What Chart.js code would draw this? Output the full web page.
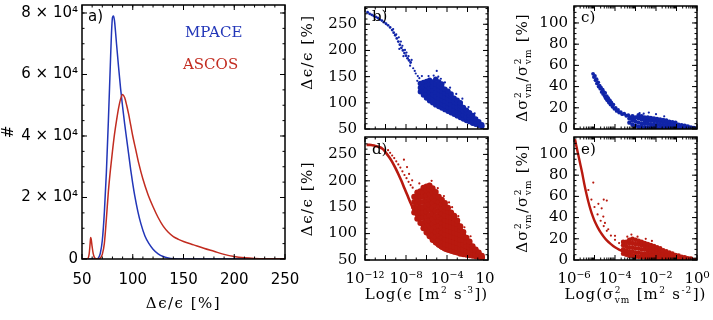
<!DOCTYPE html>
<html><head><meta charset="utf-8">
<script src="https://cdn.jsdelivr.net/npm/chart.js@4.4.1/dist/chart.umd.min.js"></script>
<style>
html,body{margin:0;padding:0;background:#fff;width:713px;height:320px;overflow:hidden}
.p{position:absolute}
</style></head><body>
<div class="p" style="left:0;top:0"><canvas id="ca" width="305" height="320"></canvas></div>
<div class="p" style="left:290px;top:0"><canvas id="cb" width="205" height="133"></canvas></div>
<div class="p" style="left:290px;top:133px"><canvas id="cd" width="205" height="187"></canvas></div>
<div class="p" style="left:500px;top:0"><canvas id="cc" width="213" height="133"></canvas></div>
<div class="p" style="left:500px;top:133px"><canvas id="ce" width="213" height="187"></canvas></div>
<script>
// ---------------- DATA ----------------
// panel a: histograms of relative uncertainty (%)
const mpaceX = [50,60,64,66,68,70,72,74,76,78,79,80,81,82,83,84,86,88,90,92,94,96,98,100,102,105,108,112,116,120,125,130,135,140,150,250];
const mpaceN = [0,0,0,300,1800,6000,15000,28000,45000,64000,73000,78500,79000,77500,74000,70000,62500,55500,49500,44000,39000,34000,29000,24500,20500,15500,11500,7500,5000,3200,1700,800,350,120,0,0];
const ascosX = [50,55,57,58,58.5,59,60,61,62,63,64,66,68,70,72,74,76,78,80,82,84,86,88,90,92,94,96,98,100,103,106,110,115,120,125,130,135,140,145,150,160,170,180,190,200,210,220,235,250];
const ascosN = [0,0,1500,5000,7000,6500,4000,1800,700,200,50,0,300,1500,5000,13000,22000,29000,35000,40500,45000,49000,52000,53500,52500,50000,47000,43500,40000,35500,31000,26000,21000,17000,13500,10700,8700,7300,6400,5700,4600,3500,2500,1500,800,400,200,100,50];
const aXTicks = [50,100,150,200,250];
const aYTicks = [0,20000,40000,60000,80000];
const aYLabels = ['0','2 × 10⁴','4 × 10⁴','6 × 10⁴','8 × 10⁴'];

// panels b,d: [log10(eps), d eps/eps %]
const bLinePts = [[-11.75,273],[-11.55,270],[-11.35,268],[-11.15,266],[-10.95,264],[-10.75,262],[-10.55,259],[-10.35,257],[-10.15,254],[-9.95,251],[-9.75,248],[-9.55,244],[-9.35,239],[-9.2,234],[-9.05,229],[-8.9,223],[-8.75,217],[-8.6,211],[-8.45,205],[-8.3,200],[-8.15,195],[-8.0,190],[-7.85,185],[-7.7,181],[-7.55,177]];
const bSparsePts = [[-9.25,241],[-8.95,231],[-8.7,225],[-8.5,217],[-8.65,203],[-8.35,209],[-8.1,201],[-8.25,189],[-7.95,196],[-7.75,189],[-7.6,171],[-7.45,182],[-7.3,166],[-7.05,156],[-6.85,151],[-6.7,147],[-7.15,161],[-6.45,151],[-6.9,142],[-5.3,152],[-5.0,161],[-4.85,150],[-4.6,146],[-4.2,139],[-5.8,151],[-3.7,129],[-3.1,117],[-2.5,108],[-1.9,92],[-1.3,80]];
const bBlobCols = [
 [-6.6,[121,129,137]],[-6.3,[115,123,131,139]],[-6.0,[109,117,125,133,141]],
 [-5.7,[104,112,120,128,136,143]],[-5.4,[100,108,116,124,132,140]],[-5.1,[96,104,112,120,128,136,145]],
 [-4.8,[93,101,109,117,125,133,140]],[-4.5,[90,98,106,114,122,130,136]],[-4.2,[87,95,103,111,119,126]],
 [-3.9,[84,92,100,108,116,122]],[-3.6,[81,89,97,105,112,117]],[-3.3,[78,86,94,102,109]],
 [-3.0,[75,83,91,99,105]],[-2.7,[72,80,88,95,100]],[-2.4,[69,77,84,91]],[-2.1,[66,73,80,86]],
 [-1.8,[64,70,76,81]],[-1.5,[61,67,72,76]],[-1.2,[59,64,69]],[-0.9,[57,61,64]],[-0.6,[55,58]]];
const dMainPts = [[-11.85,268],[-11.4,268],[-11.0,266],[-10.6,264],[-10.25,260],[-9.95,253],[-9.65,245],[-9.35,236],[-9.05,225],[-8.75,213],[-8.45,200],[-8.15,186],[-7.85,172],[-7.55,158],[-7.25,145],[-6.95,133],[-6.65,122],[-6.35,112],[-6.05,102],[-5.75,94],[-5.45,87],[-5.15,81],[-4.85,76],[-4.55,72],[-4.25,69],[-3.95,66.5],[-3.65,64.5],[-3.35,63],[-3.05,62],[-2.55,60],[-2.05,58.5],[-1.55,57],[-1.05,56],[-0.55,54.5],[-0.3,54]];
const dStrandPts = [[-9.75,258],[-9.55,253],[-9.35,248],[-9.15,243],[-8.95,237],[-8.75,231],[-8.55,225],[-8.35,218],[-8.15,211],[-7.95,205],[-7.75,198],[-7.55,192],[-7.35,187]];
const dSparsePts = [[-8.2,240],[-7.9,226],[-7.7,213],[-7.4,201],[-6.7,195],[-5.5,200],[-4.9,186],[-4.3,171],[-3.8,159],[-3.5,150],[-2.9,133],[-2.3,112],[-1.7,95]];
const dBlobCols = [
 [-7.2,[140,150,160,170]],[-6.9,[128,138,148,158,168,178]],[-6.6,[120,130,140,150,160,170,180]],
 [-6.3,[110,120,130,140,150,160,170,180,187]],[-6.0,[102,112,122,132,142,152,162,172,182,189]],
 [-5.7,[95,105,115,125,135,145,155,165,175,184,191]],[-5.4,[88,98,108,118,128,138,148,158,168,178,186]],
 [-5.1,[83,93,103,113,123,133,143,153,163,172,179]],[-4.8,[79,88,97,106,115,124,133,142,151,160,170]],
 [-4.5,[75,84,93,102,111,120,129,138,147,156,164]],[-4.2,[72,81,90,99,108,117,126,135,144,152,158]],
 [-3.9,[70,79,88,97,106,115,124,133,142,149]],[-3.6,[68,77,86,95,104,113,122,131,140]],
 [-3.3,[66,75,84,93,102,111,120,129,134]],[-3.0,[64,73,82,91,100,109,118,125]],
 [-2.7,[62,71,80,89,98,107,114]],[-2.4,[61,70,79,88,96,103]],[-2.1,[60,68,76,84,92]],
 [-1.8,[59,66,73,80,85]],[-1.5,[58,64,70,76]],[-1.2,[57,62,67,70]],[-0.9,[56,60,64]],[-0.6,[55,58]]];
const bdXTicks = [1e-12,1e-8,1e-4,1];
const bdXLabels = ['10⁻¹²','10⁻⁸','10⁻⁴','10⁰'];
const bdYTicks = [50,100,150,200,250];

// panels c,e: [log10(sigma^2), d sigma^2/sigma^2 %]
const cBandPts = [[-5.07,52],[-5.03,49],[-4.98,50],[-4.95,46],[-4.9,47],[-4.88,43],[-4.82,44],[-4.8,40],[-4.75,41],[-4.72,38],[-4.68,39],[-4.65,35],[-4.6,37],[-4.58,33],[-4.55,35],[-4.5,31],[-4.48,34],[-4.45,29],[-4.4,31],[-4.38,27],[-4.33,29],[-4.3,25],[-4.25,27],[-4.22,23],[-4.18,25],[-4.12,21],[-4.08,23],[-4.03,19],[-3.97,20],[-3.92,17],[-3.85,18],[-3.8,15.5],[-3.72,16],[-3.65,14],[-3.55,14.5],[-3.45,12.5],[-3.35,13],[-3.25,11],[-3.15,10],[-3.05,9.5]];
const cBlobCols = [
 [-3.3,[6,10]],[-3.15,[4,8,12]],[-3.0,[3,7,11]],[-2.85,[2,6,10,13]],[-2.7,[2,5,9,12]],
 [-2.55,[1.5,5,8,11]],[-2.4,[1.5,5,8,11]],[-2.25,[1,4.5,8,10.5]],[-2.1,[1,4,7.5,10]],
 [-1.95,[1,4,7,9.5]],[-1.8,[1,4,7,9]],[-1.65,[1,3.5,6.5,8.5]],[-1.5,[1,3.5,6,8]],
 [-1.35,[0.8,3,5.5,7]],[-1.2,[0.8,3,5,6.5]],[-1.05,[0.8,2.5,4.5,6]],[-0.9,[0.7,2.5,4]],
 [-0.75,[0.7,2,3.5]],[-0.6,[0.6,2,3]],[-0.45,[0.6,1.5,2.5]],[-0.3,[0.6,1.5]],[-0.15,[0.5,1]]];
const cSparsePts = [[-2.8,15],[-2.35,15.5],[-2.0,14],[-1.6,12],[-3.5,13.5],[-2.6,14.5]];
const eMainPts = [[-5.95,114],[-5.9,109],[-5.8,100],[-5.7,91],[-5.6,82],[-5.5,72],[-5.4,63],[-5.3,55],[-5.2,48],[-5.1,42],[-5.0,37],[-4.85,31],[-4.7,26],[-4.55,22],[-4.4,18.5],[-4.2,15],[-4.0,12],[-3.8,9.8],[-3.6,8],[-3.3,6],[-3.0,4.6],[-2.6,3.4],[-2.2,2.5],[-1.8,1.8],[-1.4,1.4],[-1.0,1.1],[-0.6,0.9],[-0.2,0.8],[0,0.8]];
const eStrandPts = [[-5.3,66],[-5.15,57],[-5.0,50],[-4.85,43],[-4.7,37],[-4.55,32],[-4.4,27.5],[-4.2,23],[-4.0,19],[-3.8,16],[-3.6,13.5],[-3.4,11.5]];
const eSparsePts = [[-5.06,73],[-4.4,56],[-4.55,57],[-4.81,53],[-4.65,48.7],[-4.57,41],[-4.49,35],[-4.33,29],[-4.0,22.8],[-3.2,24],[-2.9,22],[-2.5,20],[-2.2,18],[-3.4,22]];
const eBlobCols = [
 [-3.6,[6,10,14,17]],[-3.45,[5,9,13,17]],[-3.3,[4,8,12,16,19]],[-3.15,[4,8,12,16,20]],
 [-3.0,[3,7,11,15,19]],[-2.85,[3,7,11,15,18]],[-2.7,[2.5,6,10,14,17]],[-2.55,[2.5,6,10,13,16]],
 [-2.4,[2,5.5,9,12,15]],[-2.25,[2,5,8.5,12,14]],[-2.1,[1.5,5,8,11,13]],[-1.95,[1.5,4.5,7.5,10,12]],
 [-1.8,[1.5,4,7,9.5,11]],[-1.65,[1.2,4,6.5,9]],[-1.5,[1.2,3.5,6,8]],[-1.35,[1,3,5.5,7]],
 [-1.2,[1,3,5,6]],[-1.05,[1,2.5,4.5]],[-0.9,[0.9,2.5,4]],[-0.75,[0.9,2,3]],[-0.6,[0.8,1.8,2.5]],
 [-0.45,[0.8,1.5]],[-0.3,[0.8,1.2]]];
const ceXTicks = [1e-6,1e-4,1e-2,1];
const ceXLabels = ['10⁻⁶','10⁻⁴','10⁻²','10⁰'];
const ceYTicks = [0,20,40,60,80,100];

// ---------------- STYLE / HELPERS ----------------
const SERIF = 'DejaVu Serif', SANS = 'DejaVu Sans';
const BLUE = '#2236b8', RED = '#c22c20', SBLUE = '#1024a8', SRED = '#b8190f';
Chart.defaults.font.family = SERIF;
Chart.defaults.color = '#000';

function pts(list){ return list.map(p=>({x:Math.pow(10,p[0]), y:p[1]})); }
function cols(list){ const o=[]; list.forEach(c=>c[1].forEach(y=>o.push({x:Math.pow(10,c[0]), y}))); return o; }
function sc(data,color,r){ return {data, backgroundColor:color, borderColor:color, pointRadius:r, pointBorderWidth:0, showLine:false}; }
function ln(data,color,w){ return {data, borderColor:color, backgroundColor:color, borderWidth:w, pointRadius:0, showLine:true, tension:0.3}; }

function rich(ctx, segs, x, y, rot, size, fam, sp){
  const small = Math.round(size*0.62);
  ctx.save(); ctx.translate(x,y); ctx.rotate(rot||0);
  ctx.fillStyle='#000'; ctx.textBaseline='alphabetic'; ctx.textAlign='left';
  ctx.letterSpacing = (sp||0)+'px';
  const widths = segs.map(s=>{
    if(typeof s==='string'){ ctx.font=size+'px "'+fam+'"'; return ctx.measureText(s).width; }
    ctx.font=small+'px "'+fam+'"';
    return Math.max(s.sup?ctx.measureText(s.sup).width:0, s.sub?ctx.measureText(s.sub).width:0)+1;
  });
  const w = widths.reduce((a,b)=>a+b,0);
  let cx=-w/2; const base=size*0.36;
  segs.forEach((s,i)=>{
    if(typeof s==='string'){ ctx.font=size+'px "'+fam+'"'; ctx.fillText(s,cx,base); }
    else { ctx.font=small+'px "'+fam+'"';
      if(s.sup) ctx.fillText(s.sup,cx+0.5,base-size*0.45);
      if(s.sub) ctx.fillText(s.sub,cx+0.5,base+size*0.22); }
    cx+=widths[i];
  });
  ctx.restore();
}

function frame(xMaj,xMin,yMaj,yMin){
  return {id:'frame', afterDatasetsDraw(chart){
    const {ctx, chartArea:a, scales} = chart; const xs=scales.x, ys=scales.y;
    ctx.save(); ctx.strokeStyle='#000';
    const t=(vals,len,isX)=>{ vals.forEach(v=>{
      if(isX){ const p=xs.getPixelForValue(v); ctx.moveTo(p,a.bottom); ctx.lineTo(p,a.bottom-len); ctx.moveTo(p,a.top); ctx.lineTo(p,a.top+len); }
      else { const p=ys.getPixelForValue(v); ctx.moveTo(a.left,p); ctx.lineTo(a.left+len,p); ctx.moveTo(a.right,p); ctx.lineTo(a.right-len,p); } }); };
    ctx.lineWidth=1; ctx.beginPath();
    t(xMaj,5,true); t(yMaj,5,false); t(xMin,2.5,true); t(yMin,2.5,false);
    ctx.stroke();
    ctx.lineWidth=1.5; ctx.strokeRect(a.left,a.top,a.right-a.left,a.bottom-a.top);
    ctx.restore();
  }};
}
function texts(fn){ return {id:'texts', afterDraw(chart){ fn(chart.ctx, chart.chartArea); }}; }
function setTicks(vals){ return s=>{ s.ticks = vals.map(v=>({value:v})); }; }
function fixW(w){ return s=>{ s.width=w; s.paddingLeft=0; s.paddingRight=0; s.paddingTop=0; s.paddingBottom=0; }; }
function fixH(h){ return s=>{ s.height=h; s.paddingLeft=0; s.paddingRight=0; s.paddingTop=0; s.paddingBottom=0; }; }
function range(a,b,st){ const o=[]; for(let v=a; v<=b+1e-9; v+=st) o.push(v); return o; }
const baseOpts = {responsive:false, animation:false, devicePixelRatio:1, events:[], plugins:{legend:{display:false}, tooltip:{enabled:false}}};

// ---------------- PANEL A ----------------
new Chart(document.getElementById('ca'), {
  type:'line',
  data:{datasets:[
    {data:ascosX.map((x,i)=>({x,y:ascosN[i]})), borderColor:RED, borderWidth:1.5, pointRadius:0, cubicInterpolationMode:'monotone'},
    {data:mpaceX.map((x,i)=>({x,y:mpaceN[i]})), borderColor:BLUE, borderWidth:1.5, pointRadius:0, cubicInterpolationMode:'monotone'}]},
  options:{...baseOpts, layout:{padding:{top:5,right:20,left:0,bottom:0}},
    scales:{
      x:{type:'linear', min:50, max:250, afterBuildTicks:setTicks(aXTicks), afterFit:fixH(61),
         grid:{display:false, drawTicks:false}, border:{display:false},
         ticks:{font:{family:SANS,size:15}, padding:12, maxRotation:0, autoSkip:false}},
      y:{type:'linear', min:0, max:82600, afterBuildTicks:setTicks(aYTicks), afterFit:fixW(82),
         grid:{display:false, drawTicks:false}, border:{display:false},
         ticks:{font:{family:SANS,size:15}, padding:4, callback:(v,i)=>aYLabels[i]}}}},
  plugins:[frame(aXTicks, range(60,240,10), aYTicks, range(5000,80000,5000)), texts((ctx,a)=>{
    ctx.save(); ctx.textBaseline='middle'; ctx.textAlign='left';
    ctx.font='15px "'+SANS+'"'; ctx.fillStyle='#000'; ctx.fillText('a)', a.left+6, a.top+12);
    ctx.font='15px "'+SERIF+'"'; ctx.fillStyle=BLUE; ctx.fillText('MPACE', a.left+103, a.top+28);
    ctx.fillStyle=RED; ctx.fillText('ASCOS', a.left+101, a.top+60);
    ctx.restore();
    rich(ctx, ['#'], 8, (a.top+a.bottom)/2, -Math.PI/2, 15, SANS, 0);
    rich(ctx, ['Δϵ/ϵ [%]'], (a.left+a.right)/2, a.bottom+44, 0, 15, SERIF, 1.5);
  })]
});

// ---------------- SCATTER PANELS ----------------
function scatterPanel(id, datasets, o){
  return new Chart(document.getElementById(id), {
    type:'scatter', data:{datasets},
    options:{...baseOpts, layout:{padding:{top:o.top,right:o.right,left:0,bottom:0}},
      scales:{
        x:{type:'logarithmic', min:o.xmin, max:1, display:o.showX, afterBuildTicks:setTicks(o.xt), afterFit:fixH(o.showX?60:0),
           grid:{display:false, drawTicks:false}, border:{display:false},
           ticks:{font:{family:SERIF,size:15}, padding:10, maxRotation:0, autoSkip:false, callback:(v,i)=>o.xl[i]}},
        y:{type:'linear', min:o.ymin, max:o.ymax, afterBuildTicks:setTicks(o.yt), afterFit:fixW(o.yw),
           grid:{display:false, drawTicks:false}, border:{display:false},
           ticks:{font:{family:SERIF,size:15}, padding:o.ypad}}}},
    plugins:[frame(o.xMaj,o.xMin,o.yt,o.yMin), texts(o.draw)]
  });
}
const bdXMaj=[1e-12,1e-10,1e-8,1e-6,1e-4,1e-2,1], bdXMin=[1e-11,1e-9,1e-7,1e-5,1e-3,1e-1];
const ceXMaj=[1e-6,1e-5,1e-4,1e-3,1e-2,1e-1,1]; const ceXMin=[];
[-6,-5,-4,-3,-2,-1].forEach(e=>{ for(let k=2;k<=9;k++) ceXMin.push(k*Math.pow(10,e)); });
const epsTitle=['Δϵ/ϵ [%]'];
const sigTitle=['Δσ',{sup:'2',sub:'vm'},'/σ',{sup:'2',sub:'vm'},' [%]'];
function lab(t,dx,dy){ return (ctx,a)=>{ ctx.save(); ctx.font='15px "'+SERIF+'"'; ctx.fillStyle='#000'; ctx.textBaseline='middle'; ctx.fillText(t,a.left+dx,a.top+dy); ctx.restore(); }; }

scatterPanel('cb', [sc(cols(bBlobCols),SBLUE,2.7), sc(pts(bSparsePts),SBLUE,1.1), sc(pts(bLinePts),SBLUE,1.4)],
 {top:7,right:7,xmin:1e-12,showX:false,xt:bdXTicks,xl:bdXLabels,ymin:50,ymax:283,yt:bdYTicks,yw:75,ypad:8,
  xMaj:bdXMaj,xMin:bdXMin,yMin:range(60,280,10),
  draw:(ctx,a)=>{ lab('b)',7,10)(ctx,a); rich(ctx,epsTitle,a.left-58,a.top+45,-Math.PI/2,15,SERIF,1.5); }});
scatterPanel('cd', [sc(cols(dBlobCols),SRED,3.0), sc(pts(dSparsePts),SRED,1.1), sc(pts(dStrandPts),SRED,1.1), ln(pts(dMainPts),SRED,2.6)],
 {top:0,right:7,xmin:1e-12,showX:true,xt:bdXTicks,xl:bdXLabels,ymin:50,ymax:283,yt:bdYTicks,yw:75,ypad:8,
  xMaj:bdXMaj,xMin:bdXMin,yMin:range(60,280,10),
  draw:(ctx,a)=>{ lab('d)',7,13)(ctx,a); rich(ctx,epsTitle,a.left-58,(a.top+a.bottom)/2,-Math.PI/2,15,SERIF,1.5);
    rich(ctx,['Log(ϵ [m',{sup:'2'},' s',{sup:'-3'},'])'],(a.left+a.right)/2,a.bottom+34,0,15,SERIF,1); }});
scatterPanel('cc', [sc(cols(cBlobCols),SBLUE,2.2), sc(pts(cSparsePts),SBLUE,1.1), sc(pts(cBandPts),SBLUE,1.9)],
 {top:6,right:16,xmin:1e-6,showX:false,xt:ceXTicks,xl:ceXLabels,ymin:0,ymax:116,yt:ceYTicks,yw:74,ypad:6,
  xMaj:ceXMaj,xMin:ceXMin,yMin:range(5,115,5),
  draw:(ctx,a)=>{ lab('c)',7,12)(ctx,a); rich(ctx,sigTitle,a.left-52,(a.top+a.bottom)/2,-Math.PI/2,15,SERIF,1); }});
scatterPanel('ce', [sc(cols(eBlobCols),SRED,2.4), sc(pts(eSparsePts),SRED,1.1), sc(pts(eStrandPts),SRED,1.1), ln(pts(eMainPts),SRED,2.4)],
 {top:0,right:16,xmin:1e-6,showX:true,xt:ceXTicks,xl:ceXLabels,ymin:0,ymax:116,yt:ceYTicks,yw:74,ypad:6,
  xMaj:ceXMaj,xMin:ceXMin,yMin:range(5,115,5),
  draw:(ctx,a)=>{ lab('e)',7,13)(ctx,a); rich(ctx,sigTitle,a.left-52,(a.top+a.bottom)/2,-Math.PI/2,15,SERIF,1);
    rich(ctx,['Log(σ',{sup:'2',sub:'vm'},' [m',{sup:'2'},' s',{sup:'-2'},'])'],(a.left+a.right)/2,a.bottom+34,0,15,SERIF,1); }});
</script>
</body></html>
